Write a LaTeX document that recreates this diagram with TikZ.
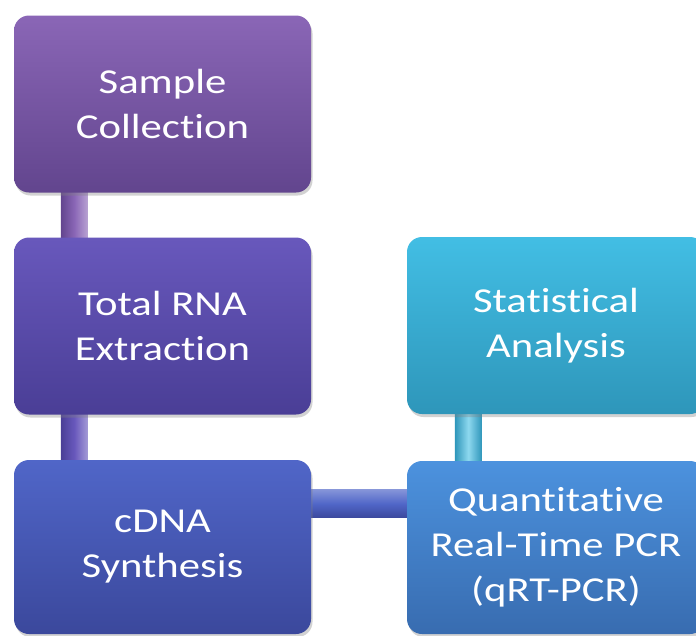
\documentclass[tikz,border=0pt]{standalone}
\usepackage{fontspec}
\setmainfont{Carlito}[FakeStretch=1.22, Ligatures={NoCommon}]
\usetikzlibrary{shadows,calc,backgrounds}
\definecolor{pA1}{HTML}{8A66B6}\definecolor{pA2}{HTML}{62458E}
\definecolor{pB1}{HTML}{6858BC}\definecolor{pB2}{HTML}{4A3E96}
\definecolor{pC1}{HTML}{5066C8}\definecolor{pC2}{HTML}{3B489C}
\definecolor{pD1}{HTML}{4C92DE}\definecolor{pD2}{HTML}{386CB0}
\definecolor{pE1}{HTML}{42BEE4}\definecolor{pE2}{HTML}{2E96BA}
\tikzset{
  stagebox/.style={rectangle, rounded corners=15pt, minimum width=297pt, minimum height=177pt,
    inner sep=0pt, align=center, text=white, font=\fontsize{35}{45}\selectfont,
    drop shadow={shadow xshift=1.5pt, shadow yshift=-3pt, opacity=0.35}},
}
\begin{document}
\begin{tikzpicture}[x=1pt,y=-1pt]
\useasboundingbox (0,0) rectangle (696,635);
\node[stagebox, top color=pA1, bottom color=pA2] (s) at (162.5,104) {Sample\\Collection};
\node[stagebox, top color=pB1, bottom color=pB2] (t) at (162.5,326) {Total RNA\\Extraction};
\node[stagebox, top color=pC1, bottom color=pC2, minimum height=174pt] (c) at (162.5,547) {cDNA\\Synthesis};
\node[stagebox, top color=pE1, bottom color=pE2, minimum width=298pt] (a) at (556,325.5) {Statistical\\Analysis};
\node[stagebox, top color=pD1, bottom color=pD2, minimum width=298pt, minimum height=173pt] (q) at (556,547.5) {Quantitative\\Real-Time PCR\\(qRT-PCR)};
\begin{scope}[on background layer]
  \fill[white] (0,0) rectangle (696,635);
  \shade[left color=pA2, right color=pA1!60!white, middle color=pA1] ($(s.south west)+(47,0)$) rectangle ($(t.north west)+(74,0)$);
  \shade[left color=pB2, right color=pB1!60!white, middle color=pB1] ($(t.south west)+(47,0)$) rectangle ($(c.north west)+(74,0)$);
  \shade[top color=pC1!70!white, bottom color=pC2, middle color=pC1] ($(c.north east)+(0,30)$) rectangle ($(q.north west)+(0,57)$);
  \shade[left color=pE2, right color=pE2, middle color=pE1!60!white] ($(a.south west)+(48,0)$) rectangle ($(q.north west)+(75,0)$);
\end{scope}
\end{tikzpicture}
\end{document}
